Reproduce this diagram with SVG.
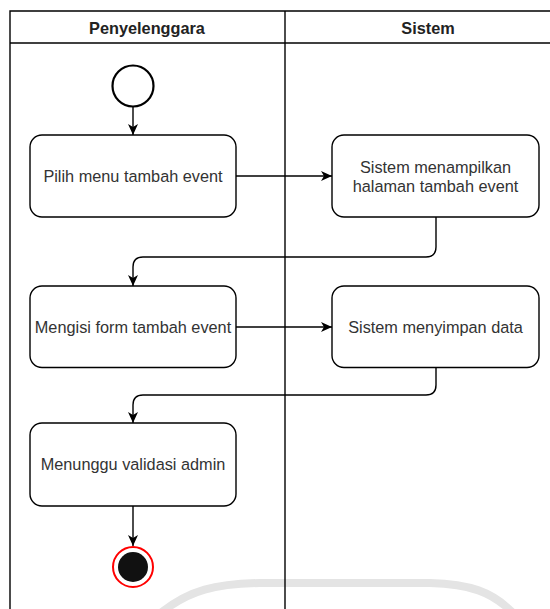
<svg xmlns="http://www.w3.org/2000/svg" width="550" height="609" viewBox="0 0 550 609">
  <style>
    .lane { fill: none; stroke: #000; stroke-width: 1.4; }
    .head { font-family: "Liberation Sans", Arial, sans-serif; font-size: 16.3px; font-weight: bold; fill: #222; text-anchor: middle; }
    .act rect { fill: #fff; stroke: #000; stroke-width: 1.4; }
    .act text { font-family: "Liberation Sans", Arial, sans-serif; font-size: 16.3px; fill: #333; text-anchor: middle; }
    .edge { fill: none; stroke: #000; stroke-width: 1.4; marker-end: url(#arrow); }
  </style>
  <defs>
    <marker id="arrow" markerUnits="userSpaceOnUse" markerWidth="12" markerHeight="10" viewBox="0 0 12 10" refX="11" refY="5" orient="auto">
      <path d="M0,0 L11,5 L0,10 L3,5 Z" fill="#000"/>
    </marker>
  </defs>

  <rect width="550" height="609" fill="#fff"/>

  <!-- faint background emblem arc -->
  <path d="M162,612 C190,590 215,584 260,583 L430,583 C470,584 492,592 512,612" fill="none" stroke="#e4e4e4" stroke-width="8"/>

  <!-- swimlanes -->
  <g id="lanes">
    <path class="lane" d="M10,620 V11 H560"/>
    <line class="lane" x1="10" y1="43" x2="560" y2="43" stroke="#333"/>
    <line class="lane" x1="285" y1="11" x2="285" y2="620"/>
    <text class="head" x="147" y="33.5">Penyelenggara</text>
    <text class="head" x="428" y="33.5">Sistem</text>
  </g>

  <!-- connectors -->
  <g id="connectors">
    <line class="edge" x1="133" y1="106.5" x2="133" y2="135"/>
    <line class="edge" x1="236" y1="176" x2="332" y2="176"/>
    <path class="edge" d="M436,217 V247 Q436,257 426,257 H143 Q133,257 133,267 V286"/>
    <line class="edge" x1="236" y1="327" x2="332" y2="327"/>
    <path class="edge" d="M436,367.5 V385 Q436,395 426,395 H143 Q133,395 133,405 V423"/>
    <line class="edge" x1="133" y1="506" x2="133" y2="546"/>
  </g>

  <g id="start">
    <circle cx="133" cy="86" r="20.5" fill="#fff" stroke="#000" stroke-width="2.2"/>
  </g>

  <g id="pilih-menu" class="act">
    <rect x="30" y="135" width="206" height="82" rx="12"/>
    <text x="133" y="182">Pilih menu tambah event</text>
  </g>

  <g id="tampil-halaman" class="act">
    <rect x="332" y="135" width="207" height="82" rx="12"/>
    <text x="435.5" y="173">Sistem menampilkan</text>
    <text x="435.5" y="191.5">halaman tambah event</text>
  </g>

  <g id="isi-form" class="act">
    <rect x="30" y="286" width="206" height="81.5" rx="12"/>
    <text x="133" y="333">Mengisi form tambah event</text>
  </g>

  <g id="simpan-data" class="act">
    <rect x="332" y="286" width="207" height="81.5" rx="12"/>
    <text x="435.5" y="333">Sistem menyimpan data</text>
  </g>

  <g id="tunggu-validasi" class="act">
    <rect x="30" y="423" width="206" height="83" rx="12"/>
    <text x="133" y="470">Menunggu validasi admin</text>
  </g>

  <g id="end">
    <circle cx="133" cy="567" r="20" fill="#fff" stroke="#ff0000" stroke-width="2"/>
    <circle cx="133" cy="567" r="15" fill="#111"/>
  </g>
</svg>
